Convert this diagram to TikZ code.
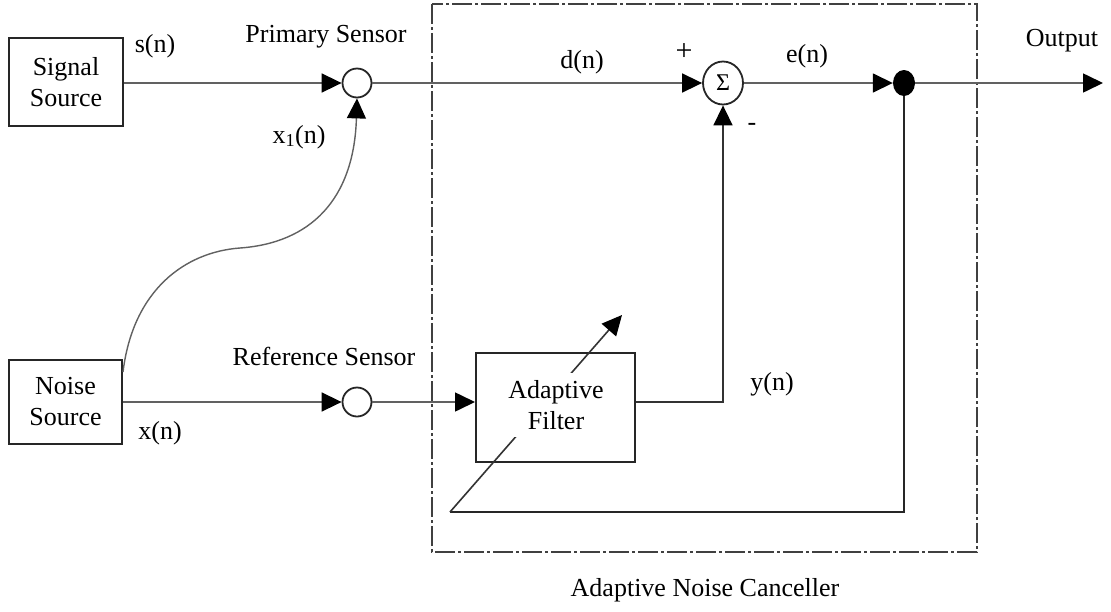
\documentclass[tikz,border=0pt]{standalone}
\usepackage{fontspec}
\setmainfont{Liberation Serif}
\usetikzlibrary{arrows.meta,shapes.geometric}
\tikzset{
  txt/.style={font=\fontsize{26}{31}\selectfont, inner sep=0pt, align=center},
  blk/.style={draw=black!85, line width=2pt, rectangle, inner sep=0pt, txt},
  sensor/.style={draw=black!85, line width=1.8pt, circle, minimum size=29pt, inner sep=0pt},
  tip/.style={-{Triangle[length=20pt,width=19pt,color=black]}},
  conn/.style={draw=black!62, line width=1.6pt, tip},
  thick conn/.style={draw=black!85, line width=2.2pt},
}
\begin{document}
\begin{tikzpicture}[x=1pt,y=-1pt]
\useasboundingbox[fill=white] (0,0) rectangle (1111,611);

% dashed canceller box
\draw[draw=black!75, line width=2pt, dash pattern=on 20pt off 3pt on 3pt off 3pt] (432,4) rectangle (977,552);

% blocks
\node[blk, minimum width=114pt, minimum height=88pt] (ss) at (66,82) {Signal\\Source};
\node[blk, minimum width=113pt, minimum height=84pt] (ns) at (65.5,402) {Noise\\Source};
\node[sensor] (ps) at (357,83) {};
\node[sensor] (rs) at (357,402) {};
\node[draw=black!85, line width=1.8pt, ellipse, minimum width=40pt, minimum height=43pt, inner sep=0pt, font=\fontsize{24}{28}\selectfont] (sum) at (723,83) {Σ};
\node[fill=black, ellipse, minimum width=22pt, minimum height=26pt, inner sep=0pt] (dot) at (904,83) {};
\node[blk, minimum width=159pt, minimum height=109pt] (af) at (555.5,407.5) {};

% coordinates
\coordinate (out) at (1103,83);
\coordinate (cs) at (123,372);
\coordinate (fbl) at (450,512);
\coordinate (fbt) at (622,315);

% connectors
\draw[conn] (ss.east |- ps.west) -- (ps.west);
\draw[conn] (ps.east) -- (sum.west);
\draw[conn] (sum.east) -- (dot.west);
\draw[conn] (dot.east) -- (out);
\draw[conn] (ns.east |- rs.west) -- (rs.west);
\draw[conn] (rs.east) -- (rs.east -| af.west);
\draw[conn, draw=black!80] (rs.east -| af.east) -| (sum.south);
\draw[conn, line width=1.4pt] (cs) .. controls (133,290) and (185,252) .. (240,248)
   .. controls (310,243) and (354,200) .. (ps.south);
\draw[thick conn] (dot.south) |- (fbl);
\draw[draw=black!80, line width=1.6pt, tip] (fbl) -- (fbt);

% filter text on top of the adaptation line
\node[txt, fill=white, inner xsep=2pt, inner ysep=7pt] (aft) at (556,405) {Adaptive\\Filter};

% labels
\node[txt] (lsn) at (155,46) {s(n)};
\node[txt] (lps) at (326,37) {Primary Sensor};
\node[txt] (lx1) at (299,137) {x\textsubscript{1}(n)};
\node[txt] (lrs) at (324,356) {Reference Sensor};
\node[txt] (lxn) at (160,433) {x(n)};
\node[txt] (ldn) at (582,62) {d(n)};
\node[txt, font=\fontsize{30}{34}\selectfont] (lplus) at (684,52) {+};
\node[txt] (lminus) at (752,127) {-};
\node[txt] (len) at (807,56) {e(n)};
\node[txt] (lout) at (1062,41) {Output};
\node[txt] (lyn) at (772,384) {y(n)};
\node[txt] (lanc) at (705,590) {Adaptive Noise Canceller};
\end{tikzpicture}
\end{document}
